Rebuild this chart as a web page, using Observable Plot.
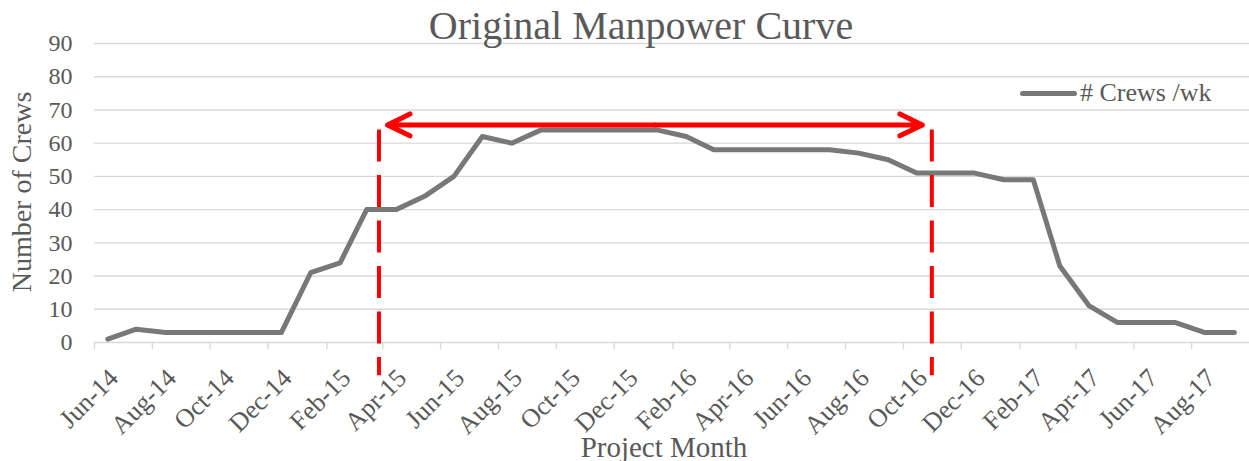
<!DOCTYPE html>
<html>
<head>
<meta charset="utf-8">
<script src="https://cdn.jsdelivr.net/npm/d3@7"></script>
<script src="https://cdn.jsdelivr.net/npm/@observablehq/plot@0.6"></script>
<style>
  html, body { margin: 0; padding: 0; background: #fff; overflow: hidden; }
  #wrap { position: relative; width: 1249px; height: 461px; font-family: "Liberation Serif", serif; color: #595959; }
  .ov { position: absolute; line-height: 1; white-space: nowrap; }
</style>
</head>
<body>
<div id="wrap">
  <div id="chart"></div>
  <div class="ov" id="title" style="left:641px; top:5.5px; font-size:40px; transform:translateX(-50%);">Original Manpower Curve</div>
  <div class="ov" id="ylabel" style="left:22px; top:192px; font-size:28px; transform:translate(-50%,-50%) rotate(-90deg);">Number of Crews</div>
  <div class="ov" id="xlabel" style="left:664px; top:432.7px; font-size:29px; transform:translateX(-50%);">Project Month</div>
  <div class="ov" id="legend-swatch" style="left:1020px; top:90.5px; width:57px; height:5.5px; border-radius:3px; background:#787878;"></div>
  <div class="ov" id="legend-text" style="left:1080px; top:80px; font-size:26px;"># Crews /wk</div>
</div>
<script>
// ---- data ----
const months = [
  "2014-06","2014-07","2014-08","2014-09","2014-10","2014-11","2014-12",
  "2015-01","2015-02","2015-03","2015-04","2015-05","2015-06","2015-07","2015-08","2015-09","2015-10","2015-11","2015-12",
  "2016-01","2016-02","2016-03","2016-04","2016-05","2016-06","2016-07","2016-08","2016-09","2016-10","2016-11","2016-12",
  "2017-01","2017-02","2017-03","2017-04","2017-05","2017-06","2017-07","2017-08","2017-09"
];
const crews = [
  1, 4, 3, 3, 3, 3, 3,
  21, 24, 40, 40, 44, 50, 62, 60, 64, 64, 64, 64,
  64, 62, 58, 58, 58, 58, 58, 57, 55, 51, 51, 51,
  49, 49, 23, 11, 6, 6, 6, 3, 3
];
const tickLabels = [
  "Jun-14","Aug-14","Oct-14","Dec-14","Feb-15","Apr-15","Jun-15","Aug-15","Oct-15","Dec-15",
  "Feb-16","Apr-16","Jun-16","Aug-16","Oct-16","Dec-16","Feb-17","Apr-17","Jun-17","Aug-17"
];
const yTicks = [0, 10, 20, 30, 40, 50, 60, 70, 80, 90];
// annotation: dashed boundaries of the peak period and the double arrow between them
const spanDates = ["2015-03-28", "2016-10-31"];
const spanTop = 64;
const spanBottom = -10;
const arrowDates = ["2015-04-06", "2016-10-21"];
const arrowLevel = 65.5;

// ---- build ----
const parseMonth = d3.utcParse("%Y-%m");
const parseTick = d3.utcParse("%b-%y");
const parseDay = d3.utcParse("%Y-%m-%d");
const midMonth = (d) => d3.utcDay.offset(d, 14);

const data = months.map((m, i) => ({date: midMonth(parseMonth(m)), crews: crews[i]}));
const xDomain = [parseMonth(months[0]), d3.utcMonth.offset(parseMonth(months[months.length - 1]), 1)];
const tickDates = tickLabels.map(parseTick);
const spans = spanDates.map(parseDay);
const [a0, a1] = arrowDates.map(parseDay);
const aMid = new Date((+a0 + +a1) / 2);
const arrows = [{x1: aMid, x2: a0}, {x1: aMid, x2: a1}];

const chart = Plot.plot({
  width: 1249,
  height: 461,
  marginLeft: 94,
  marginRight: 0,
  marginTop: 43,
  marginBottom: 119,
  x: {type: "utc", domain: xDomain},
  y: {domain: [0, 90]},
  style: {fontFamily: "Liberation Serif, serif", color: "#595959", background: "#fff", overflow: "visible"},
  marks: [
    Plot.gridY({ticks: yTicks, stroke: "#d9d9d9", strokeOpacity: 1, strokeWidth: 1.4}),
    Plot.axisX({ticks: tickDates, tickSize: 7, stroke: "#d9d9d9", strokeWidth: 1.4, fill: "none", label: null}),
    Plot.axisY({ticks: yTicks, tickSize: 0, tickPadding: 22, fontSize: 24, fill: "#595959", label: null}),
    Plot.text(tickLabels, {
      x: (d) => midMonth(parseTick(d)),
      text: (d) => d,
      frameAnchor: "bottom",
      dx: 12,
      dy: 37,
      rotate: -45,
      textAnchor: "end",
      lineAnchor: "bottom",
      fontSize: 26,
      fill: "#595959"
    }),
    Plot.line(data, {x: "date", y: "crews", stroke: "#787878", strokeWidth: 5, strokeLinejoin: "round", strokeLinecap: "round"}),
    Plot.ruleX(spans, {y1: spanTop, y2: spanBottom, stroke: "#ff0000", strokeWidth: 4, strokeDasharray: "32,13.5"}),
    Plot.arrow(arrows, {x1: "x1", x2: "x2", y1: arrowLevel, y2: arrowLevel, stroke: "#ff0000", strokeWidth: 5, headLength: 7.5, headAngle: 52, strokeLinecap: "round", strokeLinejoin: "round"})
  ]
});
document.getElementById("chart").appendChild(chart);
</script>
</body>
</html>
